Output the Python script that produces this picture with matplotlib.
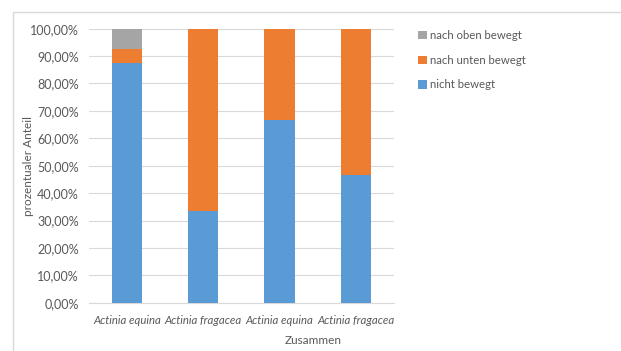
import matplotlib
matplotlib.use("Agg")
import matplotlib.pyplot as plt
from matplotlib.patches import Rectangle
from matplotlib.ticker import FuncFormatter

categories = ["Actinia equina", "Actinia fragacea", "Actinia equina", "Actinia fragacea"]
nicht_bewegt = [87.5, 33.33, 66.67, 46.67]
nach_unten = [5.0, 66.67, 33.33, 53.33]
nach_oben = [7.5, 0.0, 0.0, 0.0]
yticks = list(range(0, 101, 10))

plt.rcParams['font.family'] = ['Lato', 'DejaVu Sans']
text_col = "#595959"

W, H = 621, 351
fig = plt.figure(figsize=(W / 100, H / 100), dpi=100)
ax = fig.add_axes([88.7 / W, 1 - 302.7 / H, (394 - 88.7) / W, (302.7 - 28.7) / H])

# outer chart frame (only left/top edges fall inside the image)
fig.patches.append(Rectangle((13 / W, -0.1), 1.2, 1.1 - 12 / H, transform=fig.transFigure,
                             fill=False, edgecolor="#D9D9D9", linewidth=1.0))

x = list(range(len(categories)))
w = 0.4
ax.bar(x, nicht_bewegt, w, color="#5B9BD5", label="nicht bewegt", zorder=3)
ax.bar(x, nach_unten, w, bottom=nicht_bewegt, color="#ED7D31", label="nach unten bewegt", zorder=3)
bottom2 = [a + b for a, b in zip(nicht_bewegt, nach_unten)]
ax.bar(x, nach_oben, w, bottom=bottom2, color="#A5A5A5", label="nach oben bewegt", zorder=3)

ax.set_xlim(-0.5, len(categories) - 0.5)
ax.set_ylim(0, 100)
ax.set_yticks(yticks)
ax.yaxis.set_major_formatter(FuncFormatter(lambda v, p: f"{v:.2f}".replace(".", ",") + "%"))
ax.set_xticks(x)
ax.set_xticklabels(categories, style="italic")
ax.grid(axis="y", color="#D9D9D9", linewidth=0.8, zorder=0)
for s in ["top", "right", "left"]:
    ax.spines[s].set_visible(False)
ax.spines["bottom"].set_color("#D9D9D9")
ax.tick_params(axis="both", length=0, labelcolor=text_col)
ax.tick_params(axis="y", pad=7, labelsize=9)
ax.tick_params(axis="x", pad=9, labelsize=8.2)

fig.text(29 / W, 1 - 166 / H, "prozentualer Anteil", rotation=90, ha="center", va="center",
         fontsize=8.5, color=text_col)
fig.text(313 / W, 1 - 341 / H, "Zusammen", ha="center", va="center", fontsize=8.5, color=text_col)

handles, labels = ax.get_legend_handles_labels()
leg = fig.legend(handles[::-1], labels[::-1], loc="upper left", bbox_to_anchor=(409 / W, 1 - 21 / H),
                 frameon=False, fontsize=8.2, labelcolor=text_col, handlelength=0.75, handleheight=0.75,
                 handletextpad=0.25, labelspacing=1.2, borderpad=0.3)

fig.savefig("out.png", dpi=100)
